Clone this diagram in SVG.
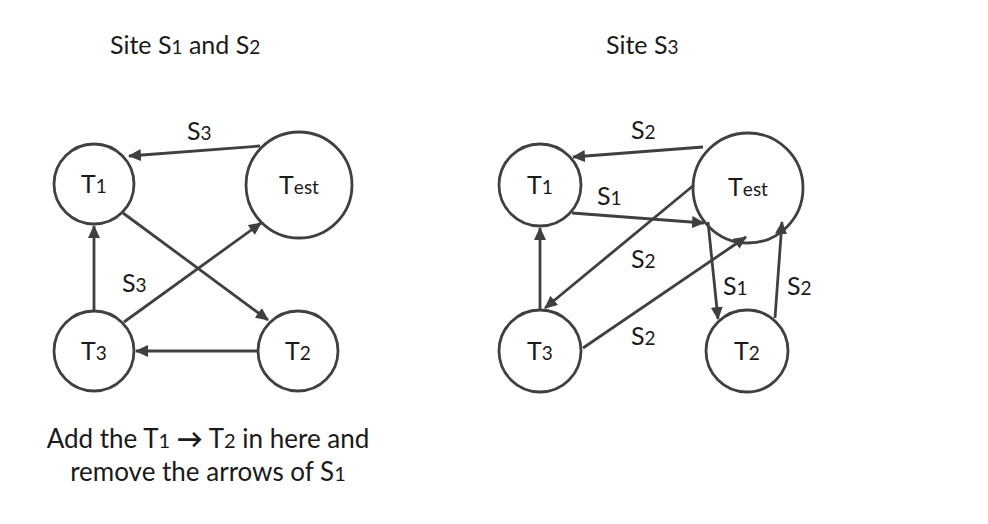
<svg xmlns="http://www.w3.org/2000/svg" width="988" height="524" viewBox="0 0 988 524">
<style>
text{font-family:Lato,"Open Sans","Liberation Sans",sans-serif;fill:#1a1a1a;}
.t{font-size:25px;}
.s{font-size:19px;}
.n{font-size:25px;text-anchor:middle;}
.node circle{fill:#fff;stroke:#404040;stroke-width:2.8;}
.conn line{stroke:#404040;stroke-width:2.8;marker-end:url(#ah);}
.big{font-size:26px;text-anchor:middle;}
.bs{font-size:20px;}
</style>
<defs>
<marker id="ah" markerUnits="userSpaceOnUse" markerWidth="14" markerHeight="12" refX="12" refY="6" orient="auto">
<path d="M0,0 L13,6 L0,12 z" fill="#404040"/>
</marker>
</defs>
<rect width="988" height="524" fill="#fff"/>
<text class="t" x="110" y="54">Site S<tspan class="s">1</tspan> and S<tspan class="s">2</tspan></text>
<text class="t" x="606" y="54">Site S<tspan class="s">3</tspan></text>

<g id="left-nodes">
<g id="L-T1" class="node"><circle cx="94" cy="184" r="40"/><text class="n" x="94" y="193">T<tspan class="s">1</tspan></text></g>
<g id="L-Test" class="node"><circle cx="299" cy="185" r="53"/><text class="n" x="299" y="194">T<tspan class="s">est</tspan></text></g>
<g id="L-T3" class="node"><circle cx="94" cy="351" r="40"/><text class="n" x="94" y="360">T<tspan class="s">3</tspan></text></g>
<g id="L-T2" class="node"><circle cx="298" cy="351" r="40"/><text class="n" x="298" y="360">T<tspan class="s">2</tspan></text></g>
</g>
<g id="right-nodes">
<g id="R-T1" class="node"><circle cx="540" cy="185" r="41"/><text class="n" x="540" y="194">T<tspan class="s">1</tspan></text></g>
<g id="R-Test" class="node"><circle cx="748" cy="188" r="55"/><text class="n" x="748" y="196">T<tspan class="s">est</tspan></text></g>
<g id="R-T3" class="node"><circle cx="540" cy="351" r="41"/><text class="n" x="540" y="360">T<tspan class="s">3</tspan></text></g>
<g id="R-T2" class="node"><circle cx="747" cy="351" r="41"/><text class="n" x="747" y="360">T<tspan class="s">2</tspan></text></g>
</g>

<g id="connectors" class="conn">
<line x1="260" y1="146" x2="129" y2="156"/>
<line x1="123" y1="213" x2="268" y2="320"/>
<line x1="94" y1="311" x2="94" y2="226"/>
<line x1="124" y1="322" x2="261" y2="223"/>
<line x1="258" y1="351" x2="136" y2="351"/>

<line x1="703" y1="147" x2="573" y2="157"/>
<line x1="572" y1="213" x2="704" y2="223"/>
<line x1="694" y1="185" x2="545" y2="308"/>
<line x1="540" y1="309" x2="540" y2="228"/>
<line x1="583" y1="348" x2="746" y2="237"/>
<line x1="708" y1="222" x2="718" y2="319"/>
<line x1="775" y1="318" x2="782" y2="222"/>
</g>

<g id="labels">
<text class="t" x="187" y="140">S<tspan class="s">3</tspan></text>
<text class="t" x="122" y="292">S<tspan class="s">3</tspan></text>
<text class="t" x="631" y="139">S<tspan class="s">2</tspan></text>
<text class="t" x="597" y="205">S<tspan class="s">1</tspan></text>
<text class="t" x="631" y="268">S<tspan class="s">2</tspan></text>
<text class="t" x="631" y="345">S<tspan class="s">2</tspan></text>
<text class="t" x="723" y="295">S<tspan class="s">1</tspan></text>
<text class="t" x="787" y="295">S<tspan class="s">2</tspan></text>
</g>

<text class="big" x="208" y="448">Add the T<tspan class="bs">1</tspan> <tspan font-weight="bold">→</tspan> T<tspan class="bs">2</tspan> in here and</text>
<text class="big" x="208" y="481">remove the arrows of S<tspan class="bs">1</tspan></text>
</svg>
